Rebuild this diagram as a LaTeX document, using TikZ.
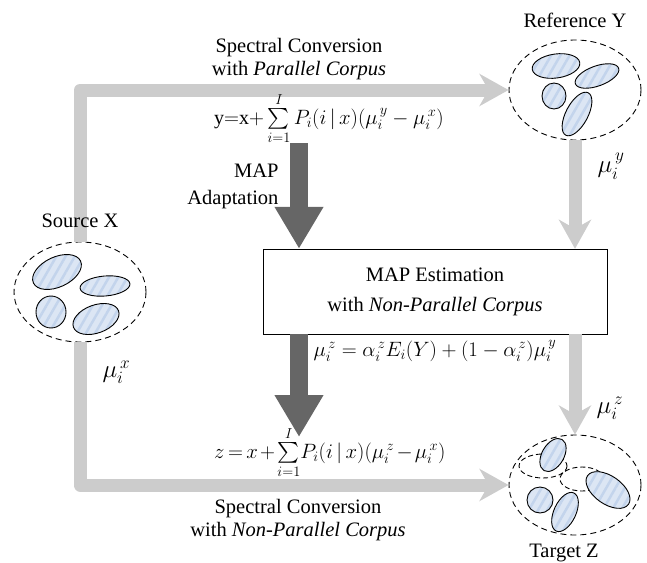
\documentclass[tikz,border=0pt]{standalone}
\usepackage{amsmath}
\usepackage{fontspec}
\setmainfont{Liberation Serif}
\usetikzlibrary{arrows.meta,positioning,shapes.geometric,patterns.meta}
\definecolor{bargray}{HTML}{CCCCCC}
\definecolor{mapgray}{HTML}{666666}
\definecolor{blobfill}{HTML}{DCE6F4}
\definecolor{blobline}{HTML}{C3D4EC}

\begin{document}
\begin{tikzpicture}[
    x=1pt, y=-1pt,
    font=\fontsize{20.5}{23}\selectfont,
    cluster/.style={
        draw,
        ellipse,
        fill=white,
        line width=0.9pt,
        dash pattern=on 6pt off 4pt,
        minimum width=132pt,
        minimum height=100pt,
        inner sep=0pt
    },
    blob/.style={
        draw,
        line width=0.9pt,
        preaction={fill=blobfill},
        pattern={Lines[angle=60,distance=8pt,line width=2.5pt]},
        pattern color=blobline
    },
    subcluster/.style={draw, line width=0.9pt, dash pattern=on 5pt off 3pt},
    conv/.style={-{Stealth[length=29pt, width=32pt, inset=9pt]}, line width=13pt, bargray, line join=round},
    adapt/.style={-{Triangle[length=42pt, width=46pt]}, line width=18pt, mapgray},
    caption/.style={align=center, inner sep=1pt},
    formula/.style={font=\fontsize{20}{24}\selectfont, inner sep=1pt},
    meanlabel/.style={font=\fontsize{25}{27}\selectfont}
]
    \useasboundingbox (0,0) rectangle (647,562);

    \node[cluster] (srcX) at (80,292) {};
    \node[cluster] (refY) at (575,90) {};
    \node[cluster] (tgtZ) at (575,485) {};

    \draw[conv] (srcX.north) |- (refY.west);
    \draw[conv] (srcX.south) |- (tgtZ.west);

    \node[draw, thin, fill=white, align=center, minimum width=344pt, minimum height=85pt,
          font=\fontsize{20.5}{30}\selectfont] (mapEst) at (435,291.5) {MAP Estimation\\with \textit{Non-Parallel Corpus}};

    \draw[conv] (refY.south) -- (refY.south |- mapEst.north);
    \draw[conv] (mapEst.south -| tgtZ.north) -- (tgtZ.north);

    \coordinate (adaptTop) at (299,143);
    \coordinate (adaptTip) at (299,437);
    \draw[adapt] (adaptTop) -- (adaptTop |- mapEst.north);
    \draw[adapt] (mapEst.south -| adaptTop) -- (adaptTip);

    \node[above=10pt of srcX] (srcLabel) {Source X};
    \node[above=8pt of refY] (refLabel) {Reference Y};
    \node[below=7pt of tgtZ, xshift=-11pt, inner sep=1pt] (tgtLabel) {Target Z};

    \node[caption] (topCaption) at (299,59) {Spectral Conversion\\with \textit{Parallel Corpus}};
    \node[caption] (botCaption) at (298,520) {Spectral Conversion\\with \textit{Non-Parallel Corpus}};
    \node[align=right, anchor=east, font=\fontsize{20.5}{27}\selectfont] (adaptLabel) at (282,186) {MAP\\Adaptation};

    \node[formula, anchor=base west] (convY) at (213,124) {$\mathrm{y}{=}\mathrm{x}{+}\sum\limits_{i=1}^{I} P_i(i\,|\,x)(\mu_i^{\,y}-\mu_i^{\,x})$};
    \node[formula, anchor=base west] (convZ) at (213,458) {$\thickmuskip=3mu \medmuskip=2mu z=x+\sum\limits_{i=1}^{I}\!P_i(i\,|\,x)(\mu_i^{\,z}-\mu_i^{\,x})$};
    \node[formula] (mapRule) at (435,351) {$\mu_i^{\,z}=\alpha_i^{\,z}E_i(Y)+(1-\alpha_i^{\,z})\mu_i^{\,y}$};

    \node[meanlabel, anchor=west] (muX) at (99,372) {$\mu_i^{\,x}$};
    \node[meanlabel] (muY) at (611,166) {$\mu_i^{\,y}$};
    \node[meanlabel] (muZ) at (610,408) {$\mu_i^{\,z}$};

    \draw[subcluster] (543,466) ellipse [x radius=24, y radius=12];
    \draw[subcluster] (582,479) ellipse [x radius=22, y radius=12];

    \foreach \cx/\cy/\rx/\ry/\ang in {
        57/272/26/15/25, 105/286/25/10/5, 51/312/15/16/0, 96/319/24/14/20,
        556/66/24/12/8, 597/76/23/10/20, 554/96/12/13/0, 577/114/11/24/-28,
        553/455/11/18/-30, 608/490/25/14/-35, 540/500/13/13/0, 565/512/11/21/-25}
        \draw[blob, rotate around={\ang:(\cx,\cy)}] (\cx,\cy) ellipse [x radius=\rx, y radius=\ry];
\end{tikzpicture}
\end{document}
